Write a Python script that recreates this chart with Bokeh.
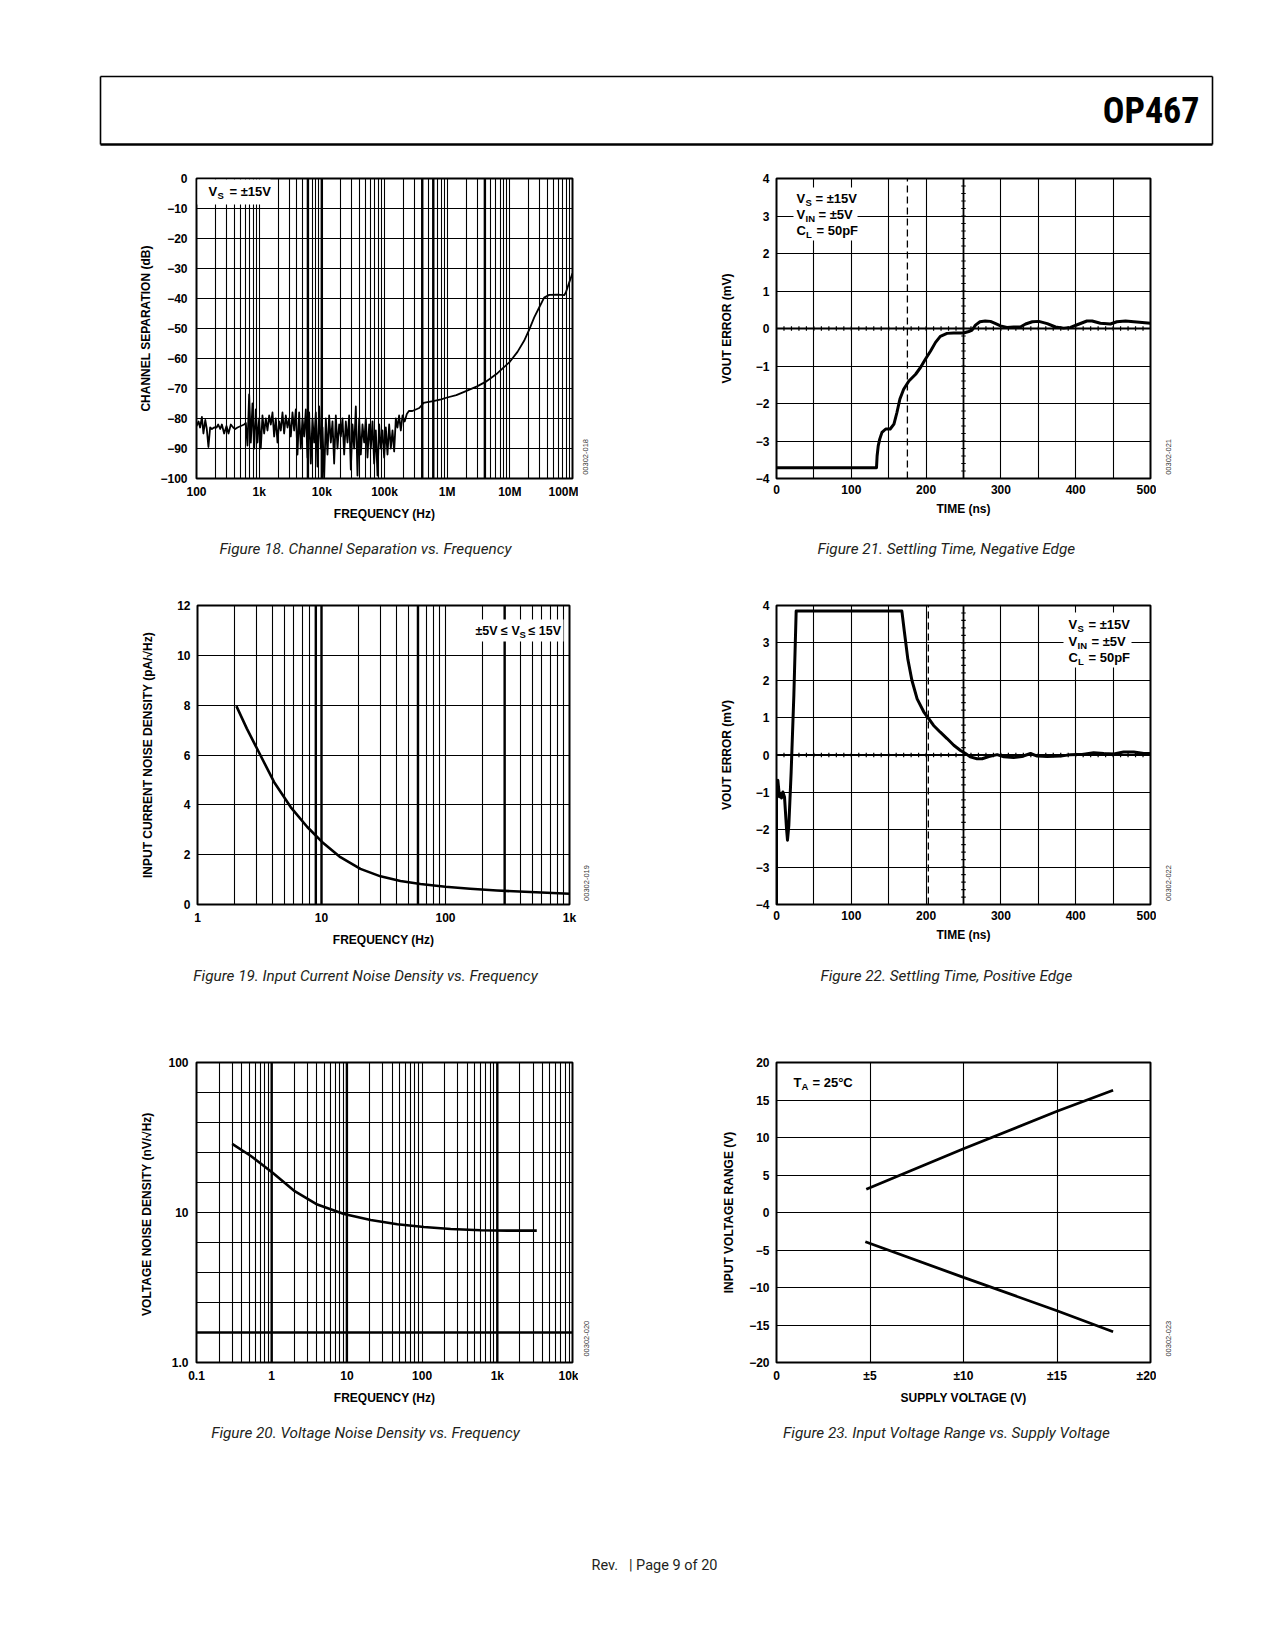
import numpy as np
from bokeh.plotting import figure
from bokeh.models import Range1d, FixedTicker
from bokeh.layouts import column, row
from bokeh.embed import file_html
from bokeh.resources import INLINE
from bokeh.core.properties import value

FONT = "Liberation Sans"
CAP_FONT = "Roboto"
HEAD_FONT = "Roboto Condensed, Liberation Sans Narrow, DejaVu Sans Condensed, Liberation Sans"
MINUS = "\u2212"

# ---------------- Figure 18: channel separation ----------------
f18_freq = [100, 108, 114, 122, 129, 138, 146, 155, 165, 176, 191, 209, 222, 239, 254, 276,
            301, 324, 353, 385, 414, 451, 510, 576, 613,
            651, 692, 736, 782, 832, 884, 940, 999, 1062, 1129, 1201, 1277, 1357, 1443, 1534,
            1631, 1734, 1843, 1960, 2084, 2215, 2355, 2504, 2662, 2830, 3009, 3199, 3401, 3616,
            3844, 4087, 4345, 4620, 4911, 5222, 5551, 5902, 6275, 6671, 7093, 7541, 8017, 8523,
            9062, 9634, 10243, 10890, 11578, 12309, 13087, 13913, 14792, 15726, 16720, 17776,
            18898, 20092, 21361, 22710, 24145, 25670, 27291, 29015, 30848, 32796, 34868, 37070,
            39412, 41901, 44548, 47362, 50353, 53534, 56915, 60510, 64332, 68396, 72716, 77309,
            82192, 87384, 92904, 98772, 105011, 111644, 118696, 126194, 134165, 142640,
            151600, 161000, 171000, 182000, 194000, 210000, 227000, 245000, 278000, 316000,
            359000, 395000, 420000, 460000,
            6.0e5, 8.0e5, 1.0e6, 1.4e6, 1.87e6, 3.0e6, 4.09e6, 6.35e6, 1.0e7, 1.325e7, 1.69e7,
            2.04e7, 2.45e7, 2.94e7, 3.53e7, 4.25e7, 5.77e7, 7.37e7, 7.83e7, 8.85e7, 1.0e8]
f18_sep = [-82.5, -81, -83, -79.5, -85, -80.5, -83.5, -89.5, -83, -83.5, -83, -83, -82, -83.5,
           -82, -85, -82.5, -85, -82, -83, -83.5, -83, -82.5, -82, -81.5,
           -89, -72, -88, -75, -90, -77, -88, -80, -90, -79,
           -85, -80, -84, -79, -82, -78, -86, -80, -88, -81,
           -84, -78, -85, -79, -83, -80, -86, -78, -84, -77,
           -92, -78, -90, -80, -86, -77, -93, -78, -95, -80,
           -88, -78, -96, -76, -90, -83, -100, -80, -92, -79,
           -88, -81, -95, -79, -90, -82, -86, -80, -92, -81,
           -88, -79, -97, -82, -90, -76, -99, -80, -92, -82,
           -88, -80, -93, -82, -90, -81, -95, -84, -99, -82,
           -90, -84, -93, -83, -92, -82, -90, -84, -91,
           -80, -83, -79, -84, -79, -81, -78.5, -77.5, -77.5, -77, -76.5, -75.5, -74.8, -74.6,
           -74.2, -73.6, -73.0, -72.2, -71.1, -69.3, -67.8, -64.9, -61.1, -57.8, -54.1,
           -50.4, -46.3, -43.0, -39.7, -38.8, -38.7, -38.9, -38.0, -34.7, -31.6]
f18_x_ticks = [1e2, 1e3, 1e4, 1e5, 1e6, 1e7, 1e8]
f18_x_labels = ["100", "1k", "10k", "100k", "1M", "10M", "100M"]
f18_y_ticks = [0, -10, -20, -30, -40, -50, -60, -70, -80, -90, -100]
f18_heavy = [6e3, 1e4, 4e5, 6e5, 4e6]

# ---------------- Figure 19: input current noise ----------------
f19_freq = [2.06, 2.5, 3.04, 4.14, 5.64, 7.68, 10.1, 14.2, 20.6, 29.9, 43.3, 62.8, 99.8, 158,
            260, 482, 1000]
f19_noise = [7.96, 7.06, 6.23, 4.92, 3.91, 3.11, 2.51, 1.90, 1.43, 1.13, 0.94, 0.82, 0.71,
             0.63, 0.56, 0.50, 0.43]
f19_x_ticks = [1, 10, 100, 1000]
f19_x_labels = ["1", "10", "100", "1k"]
f19_y_ticks = [0, 2, 4, 6, 8, 10, 12]
f19_heavy = [9, 10, 60, 300]

# ---------------- Figure 20: voltage noise ----------------
f20_freq = [0.298, 0.523, 1.02, 1.97, 4.04, 9.15, 20.7, 46.9, 106, 240, 603, 1365, 3350]
f20_noise = [28.7, 23.9, 18.5, 14.0, 11.3, 9.77, 8.91, 8.34, 8.0, 7.76, 7.61, 7.57, 7.57]
f20_x_ticks = [0.1, 1, 10, 100, 1000, 10000]
f20_x_labels = ["0.1", "1", "10", "100", "1k", "10k"]
f20_y_ticks = [1, 10, 100]
f20_y_labels = ["1.0", "10", "100"]
f20_heavy_x = [1, 10, 1000]
f20_heavy_y = [1.585]

# ---------------- Figure 21: settling, negative edge ----------------
f21_t = [0, 133.7, 134.5, 136, 138, 141, 146, 152, 157, 161, 165, 170, 177, 186, 192.5, 199,
         206, 212.6, 219, 228, 237, 250, 257, 261.6, 266, 272, 279, 286, 293, 299.5, 308, 317,
         326, 333, 342, 350.7, 362, 373, 384, 393, 402, 415, 422, 433, 446.5, 455, 466.6,
         477.7, 500]
f21_err = [-3.71, -3.71, -3.4, -3.13, -2.95, -2.77, -2.68, -2.68, -2.55, -2.24, -1.88, -1.62,
           -1.40, -1.22, -1.04, -0.82, -0.60, -0.37, -0.21, -0.13, -0.12, -0.12, -0.08, -0.04,
           0.09, 0.18, 0.20, 0.19, 0.13, 0.07, 0.03, 0.04, 0.04, 0.12, 0.18, 0.19, 0.13, 0.04,
           0.01, 0.03, 0.10, 0.20, 0.20, 0.14, 0.12, 0.18, 0.20, 0.18, 0.14]
f21_dash_t = 175

# ---------------- Figure 22: settling, positive edge ----------------
f22_t = [0, 0, 1.8, 4, 5.3, 6.7, 8.5, 10.7, 13.4, 14.7, 16.5, 19.6, 23.2, 26.3, 167.6, 171,
         175.6, 181, 188, 197, 203.6, 210, 219, 228, 237, 246, 252.7, 259, 268, 275, 284, 295,
         304, 317, 328, 339.6, 348.5, 362, 380, 393, 411, 424, 437.6, 451, 464, 477.7, 491, 500]
f22_err = [-4, -0.7, -0.68, -1.12, -1.03, -1.15, -0.99, -1.12, -1.97, -2.28, -1.88, -0.45, 1.6,
           3.85, 3.85, 3.29, 2.56, 2.0, 1.5, 1.15, 0.97, 0.79, 0.61, 0.44, 0.26, 0.12, 0.04,
           -0.05, -0.10, -0.10, -0.04, 0.01, -0.05, -0.07, -0.04, 0.04, -0.03, -0.04, -0.03,
           0.01, 0.02, 0.06, 0.04, 0.03, 0.08, 0.08, 0.04, 0.04]
f22_dash_t = 203

st_x_ticks = [0, 100, 200, 300, 400, 500]
st_y_ticks = [-4, -3, -2, -1, 0, 1, 2, 3, 4]

# ---------------- Figure 23: input voltage range ----------------
f23_vs_hi = [4.8, 10, 15, 18.0]
f23_hi = [3.1, 8.5, 13.5, 16.3]
f23_vs_lo = [4.75, 10, 15, 18.0]
f23_lo = [-3.9, -8.65, -13.1, -15.9]
f23_x_ticks = [0, 5, 10, 15, 20]
f23_x_labels = ["0", "\u00b15", "\u00b110", "\u00b115", "\u00b120"]
f23_y_ticks = [-20, -15, -10, -5, 0, 5, 10, 15, 20]

captions = {
    18: "Figure 18. Channel Separation vs. Frequency",
    19: "Figure 19. Input Current Noise Density vs. Frequency",
    20: "Figure 20. Voltage Noise Density vs. Frequency",
    21: "Figure 21. Settling Time, Negative Edge",
    22: "Figure 22. Settling Time, Positive Edge",
    23: "Figure 23. Input Voltage Range vs. Supply Voltage",
}


def lab(v):
    return str(v).replace("-", MINUS)


def log_grid(e0, e1):
    return [m * 10.0 ** e for e in range(e0, e1) for m in range(1, 10)] + [10.0 ** e1]


def make_chart(X0, X1, Y0, Y1, frame, xr, yr, xlog=False, ylog=False,
               xticks=(), xlabels=(), yticks=(), ylabels=(), xgrid=(), ygrid=(),
               xlabel="", ylabel="", y_lab_sd=8, y_axis_sd=10):
    fl, fr, ft, fb = frame
    p = figure(width=X1 - X0, height=Y1 - Y0, title=None,
               x_range=Range1d(*xr), y_range=Range1d(*yr),
               x_axis_type="log" if xlog else "linear",
               y_axis_type="log" if ylog else "linear",
               output_backend="svg", toolbar_location=None,
               min_border_left=fl - X0, min_border_right=X1 - fr,
               min_border_top=ft - Y0, min_border_bottom=Y1 - fb)
    p.outline_line_color = "black"
    p.outline_line_width = 2
    p.background_fill_color = "white"
    p.border_fill_color = "white"
    for ax in (p.xaxis[0], p.yaxis[0]):
        ax.axis_line_color = None
        ax.major_tick_line_color = None
        ax.minor_tick_line_color = None
        ax.major_tick_out = 0
        ax.major_tick_in = 0
        ax.minor_tick_out = 0
        ax.minor_tick_in = 0
        ax.major_label_text_font = FONT
        ax.major_label_text_font_style = "bold"
        ax.major_label_text_font_size = "12px"
        ax.major_label_text_color = "black"
        ax.axis_label_text_font = FONT
        ax.axis_label_text_font_style = "bold"
        ax.axis_label_text_font_size = "12px"
        ax.axis_label_text_color = "black"
    p.xaxis.ticker = FixedTicker(ticks=list(xticks))
    p.xaxis.major_label_overrides = dict(zip(xticks, xlabels))
    p.yaxis.ticker = FixedTicker(ticks=list(yticks))
    p.yaxis.major_label_overrides = dict(zip(yticks, ylabels))
    p.xaxis.major_label_standoff = 6
    p.xaxis.axis_label_standoff = 5
    p.yaxis.major_label_standoff = y_lab_sd
    p.yaxis.axis_label_standoff = y_axis_sd
    p.xaxis.axis_label = xlabel
    p.yaxis.axis_label = ylabel
    p.xgrid.ticker = FixedTicker(ticks=list(xgrid))
    p.ygrid.ticker = FixedTicker(ticks=list(ygrid))
    p.grid.grid_line_color = "black"
    p.grid.grid_line_width = 1.1
    p.grid.grid_line_alpha = 1.0

    def fx(px):
        t = (px - fl) / (fr - fl)
        return xr[0] * (xr[1] / xr[0]) ** t if xlog else xr[0] + t * (xr[1] - xr[0])

    def fy(py):
        t = (fb - py) / (fb - ft)
        return yr[0] * (yr[1] / yr[0]) ** t if ylog else yr[0] + t * (yr[1] - yr[0])

    return p, fx, fy


def runs(p, x, y, parts):
    for txt, dx, size, dy in parts:
        p.text(x=[x], y=[y], text=[txt], x_offset=dx, y_offset=dy,
               text_font=value(FONT), text_font_size=f"{size}px", text_font_style="bold",
               text_color="black", text_baseline="middle", text_align="left")


def white_box(p, fx, fy, x0, x1, y0, y1):
    p.quad(left=[fx(x0)], right=[fx(x1)], top=[fy(y0)], bottom=[fy(y1)],
           fill_color="white", line_color=None)


def heavy_v(p, xs, y0, y1, w=2.4):
    p.segment(x0=xs, y0=[y0] * len(xs), x1=xs, y1=[y1] * len(xs),
              line_color="black", line_width=w)


def heavy_h(p, ys, x0, x1, w=2.4):
    p.segment(x0=[x0] * len(ys), y0=ys, x1=[x1] * len(ys), y1=ys,
              line_color="black", line_width=w)


def strip(X0, X1, Y0, Y1):
    p = figure(width=X1 - X0, height=Y1 - Y0, title=None, x_range=Range1d(X0, X1),
               y_range=Range1d(Y1, Y0), x_axis_type=None, y_axis_type=None,
               output_backend="svg", toolbar_location=None, min_border=0)
    p.outline_line_color = None
    p.background_fill_color = "white"
    p.border_fill_color = "white"
    return p


def code_strip(X0, X1, Y0, Y1, cx, cy, txt):
    p = strip(X0, X1, Y0, Y1)
    p.text(x=[cx], y=[cy], text=[txt], angle=np.pi / 2, text_font=value(FONT),
           text_font_size="7.5px", text_align="center", text_baseline="middle",
           text_color="#333333")
    return p


LX0, LX1, RX0, RX1, PX1 = 0, 578, 640, 1156, 1267
LFL, LFR = 196, 572
RFL, RFR = 776, 1150

# ---- row A ----
AY0, AY1, AFT, AFB = 160, 535, 178, 478
p18, fx, fy = make_chart(LX0, LX1, AY0, AY1, (LFL, LFR, AFT, AFB), (1e2, 1e8), (-100, 0),
                         xlog=True, xticks=f18_x_ticks, xlabels=f18_x_labels,
                         yticks=f18_y_ticks, ylabels=[lab(v) for v in f18_y_ticks],
                         xgrid=log_grid(2, 8), ygrid=f18_y_ticks[1:-1],
                         xlabel="FREQUENCY (Hz)", ylabel="CHANNEL SEPARATION (dB)",
                         y_lab_sd=9, y_axis_sd=4)
heavy_v(p18, f18_heavy, -100, 0)
p18.line(f18_freq, f18_sep, line_color="black", line_width=1.8, line_join="round")
white_box(p18, fx, fy, 197, 270, 179, 204)
runs(p18, fx(208), fy(191), [("V", 0, 13, 0), ("S", 9, 9.5, 4), ("= \u00b115V", 21, 13, 0)])


def settling(X0, X1, Y0, Y1, frame, t, err, dash_t):
    p, fx, fy = make_chart(X0, X1, Y0, Y1, frame, (0, 500), (-4, 4),
                           xticks=st_x_ticks, xlabels=[lab(v) for v in st_x_ticks],
                           yticks=st_y_ticks, ylabels=[lab(v) for v in st_y_ticks],
                           xgrid=[50, 100, 150, 200, 300, 350, 400, 450],
                           ygrid=[-3, -2, -1, 1, 2, 3],
                           xlabel="TIME (ns)", ylabel="VOUT ERROR (mV)",
                           y_lab_sd=7, y_axis_sd=19)
    p.line([dash_t, dash_t], [-4, 4], line_color="black", line_width=1.3, line_dash="7 4")
    p.line([250, 250], [-4, 4], line_color="black", line_width=1.8)
    p.line([0, 500], [0, 0], line_color="black", line_width=1.8)
    tx = list(range(10, 500, 10))
    p.segment(x0=tx, y0=[-0.06] * len(tx), x1=tx, y1=[0.06] * len(tx),
              line_color="black", line_width=1.2)
    ty = [k * 0.2 for k in range(-19, 20)]
    p.segment(x0=[247] * len(ty), y0=ty, x1=[253] * len(ty), y1=ty,
              line_color="black", line_width=1.2)
    p.line(t, err, line_color="black", line_width=3, line_join="round")
    return p, fx, fy


p21, fx, fy = settling(RX0, RX1, AY0, AY1, (RFL, RFR, AFT, AFB), f21_t, f21_err, f21_dash_t)
white_box(p21, fx, fy, 793, 857, 187, 240)
runs(p21, fx(796), fy(198), [("V", 0, 13, 0), ("S", 9, 9.5, 4), ("= \u00b115V", 19, 13, 0)])
runs(p21, fx(796), fy(214), [("V", 0, 13, 0), ("IN", 9, 9.5, 4), ("= \u00b15V", 22, 13, 0)])
runs(p21, fx(796), fy(230), [("C", 0, 13, 0), ("L", 9.5, 9.5, 4), ("= 50pF", 20, 13, 0)])

cA1 = code_strip(LX1, RX0, AY0, AY1, 585, 508, "00302-018")
cA2 = code_strip(RX1, PX1, AY0, AY1, 1168, 508, "00302-021")

# ---- row B ----
BY0, BY1, BFT, BFB = 565, 955, 605, 904
p19, fx, fy = make_chart(LX0, LX1, BY0, BY1, (197, 569, BFT, BFB), (1, 1000), (0, 12),
                         xlog=True, xticks=f19_x_ticks, xlabels=f19_x_labels,
                         yticks=f19_y_ticks, ylabels=[lab(v) for v in f19_y_ticks],
                         xgrid=log_grid(0, 3), ygrid=[2, 4, 6, 8, 10],
                         xlabel="FREQUENCY (Hz)",
                         ylabel="INPUT CURRENT NOISE DENSITY (pA/\u221aHz)",
                         y_lab_sd=7, y_axis_sd=19)
heavy_v(p19, f19_heavy, 0, 12)
p19.line(f19_freq, f19_noise, line_color="black", line_width=2.6, line_join="round")
white_box(p19, fx, fy, 473, 563, 619, 641)
runs(p19, fx(475), fy(630), [("\u00b15V \u2264 V", 0, 12.5, 0), ("S", 44, 9.5, 4),
                             ("\u2264 15V", 53, 12.5, 0)])

p22, fx, fy = settling(RX0, RX1, BY0, BY1, (RFL, RFR, BFT, BFB), f22_t, f22_err, f22_dash_t)
white_box(p22, fx, fy, 1063, 1131, 612, 667)
runs(p22, fx(1068), fy(624), [("V", 0, 13, 0), ("S", 9, 9.5, 4), ("= \u00b115V", 20, 13, 0)])
runs(p22, fx(1068), fy(641), [("V", 0, 13, 0), ("IN", 9, 9.5, 4), ("= \u00b15V", 23, 13, 0)])
runs(p22, fx(1068), fy(657), [("C", 0, 13, 0), ("L", 9.5, 9.5, 4), ("= 50pF", 20, 13, 0)])

cB1 = code_strip(LX1, RX0, BY0, BY1, 586, 927, "00302-019")
cB2 = code_strip(RX1, PX1, BY0, BY1, 1168, 927, "00302-022")

# ---- row C ----
CY0, CY1, CFT, CFB = 995, 1410, 1062, 1362
p20, fx, fy = make_chart(LX0, LX1, CY0, CY1, (LFL, LFR, CFT, CFB), (0.1, 10000), (1, 100),
                         xlog=True, ylog=True, xticks=f20_x_ticks, xlabels=f20_x_labels,
                         yticks=f20_y_ticks, ylabels=f20_y_labels,
                         xgrid=log_grid(-1, 4), ygrid=[10 ** (k / 5) for k in range(1, 10)],
                         xlabel="FREQUENCY (Hz)",
                         ylabel="VOLTAGE NOISE DENSITY  (nV/\u221aHz)",
                         y_lab_sd=8, y_axis_sd=11)
heavy_v(p20, f20_heavy_x, 1, 100)
heavy_h(p20, f20_heavy_y, 0.1, 10000)
p20.line(f20_freq, f20_noise, line_color="black", line_width=2.6, line_join="round")

p23, fx, fy = make_chart(RX0, RX1, CY0, CY1, (RFL, RFR, CFT, CFB), (0, 20), (-20, 20),
                         xticks=f23_x_ticks, xlabels=f23_x_labels,
                         yticks=f23_y_ticks, ylabels=[lab(v) for v in f23_y_ticks],
                         xgrid=[5, 10, 15], ygrid=[-15, -10, -5, 0, 5, 10, 15],
                         xlabel="SUPPLY VOLTAGE (V)", ylabel="INPUT VOLTAGE RANGE (V)",
                         y_lab_sd=7, y_axis_sd=10)
p23.line(f23_vs_hi, f23_hi, line_color="black", line_width=2.8)
p23.line(f23_vs_lo, f23_lo, line_color="black", line_width=2.8)
runs(p23, fx(793), fy(1082), [("T", 0, 13, 0), ("A", 8, 9.5, 4), ("= 25\u00b0C", 19, 13, 0)])

cC1 = code_strip(LX1, RX0, CY0, CY1, 586, 1377, "00302-020")
cC2 = code_strip(RX1, PX1, CY0, CY1, 1168, 1377, "00302-023")


# ---- page strips ----
def caption(p, x, y, txt):
    p.text(x=[x], y=[y], text=[txt], text_font=value(CAP_FONT), text_font_size="15.3px",
           text_font_style="italic", text_color="#231f20", text_align="center",
           text_baseline="middle")


hdr = strip(0, PX1, 0, AY0)
hdr.segment(x0=[100], y0=[76], x1=[1212], y1=[76], line_color="black", line_width=1.6)
hdr.segment(x0=[100], y0=[144], x1=[1212], y1=[144], line_color="black", line_width=2.6)
hdr.segment(x0=[100, 1212], y0=[76, 76], x1=[100, 1212], y1=[144, 144],
            line_color="black", line_width=1.6)
hdr.text(x=[1199], y=[110], text=["OP467"], text_align="right", text_baseline="middle",
         text_font=value(HEAD_FONT), text_font_size="36px", text_font_style="bold",
         text_color="black")

capA = strip(0, PX1, AY1, BY0)
caption(capA, 365, 548, captions[18])
caption(capA, 946, 548, captions[21])
capB = strip(0, PX1, BY1, CY0)
caption(capB, 365, 975, captions[19])
caption(capB, 946, 975, captions[22])
capC = strip(0, PX1, CY1, 1460)
caption(capC, 365, 1432, captions[20])
caption(capC, 946, 1432, captions[23])
foot = strip(0, PX1, 1460, 1640)
foot.text(x=[654], y=[1565], text=["Rev.\u00a0\u00a0\u00a0| Page 9 of 20"],
          text_font=value(CAP_FONT), text_font_size="14.5px", text_color="#231f20",
          text_align="center", text_baseline="middle")

layout = column(hdr,
                row(p18, cA1, p21, cA2), capA,
                row(p19, cB1, p22, cB2), capB,
                row(p20, cC1, p23, cC2), capC,
                foot)
open("out.html", "w").write(file_html(layout, INLINE))
